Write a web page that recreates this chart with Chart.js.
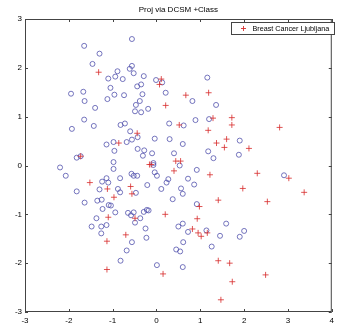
<!DOCTYPE html>
<html>
<head>
<meta charset="utf-8">
<script src="https://cdn.jsdelivr.net/npm/chart.js@4"></script>
<style>
  html, body { margin: 0; padding: 0; background: #fff; }
  canvas { display: block; }
</style>
</head>
<body>
<canvas id="projChart" width="338" height="328"></canvas>
<script>
// values (projection coords)
const chartTitle = 'Proj via DCSM +Class';
const legendLabel = 'Breast Cancer Ljubljana';

const xTicks = [-3, -2, -1, 0, 1, 2, 3, 4];
const yTicks = [-3, -2, -1, 0, 1, 2, 3];

// blue circles
const circleX = [
  -1.65, -1.30, -1.46, -0.56, -0.89, -0.94, -1.10, -0.77, -1.95, -1.67,
  -1.64, -1.05, -0.96, -1.12, -0.74, -1.40, -1.65, -1.43, -1.93, -0.82,
  -0.72, -0.56, -0.61, -0.52, -0.29, -0.44, -0.35, -0.32, -0.01, 0.13,
  0.21, 1.16, 0.82, 1.36, -0.38, -0.47, -0.49, -0.35, -0.19, 0.29,
  0.62, 0.89, 1.20, -1.14, -0.98, -0.68, -0.96, -1.82, -1.73, -0.98,
  -0.98, -2.20, -2.07, -1.14, -1.24, -1.10, -0.83, -1.30, -0.88, -0.83,
  -1.82, -1.64, -1.35, -1.25, -1.09, -1.04, -1.23, -0.94, -1.37, -0.65,
  -0.60, -0.43, -0.56, -0.04, 0.30, 0.60, -0.43, -0.28, -0.31, -0.10,
  0.40, 1.18, 1.30, 0.53, -0.07, -0.07, 0.92, -0.04, 0.01, -0.57,
  -0.52, -0.44, 0.72, 0.27, 0.23, -0.21, 0.86, 0.11, 0.56, 0.60,
  -0.47, 0.37, 0.92, -0.52, -0.58, -0.29, -0.22, -0.18, -0.37, 1.90,
  1.88, 2.91, -1.48, -1.26, -1.14, -1.26, -0.68, -0.82, -0.49, 0.60,
  0.50, 0.72, 1.14, 1.45, 1.59, -0.25, -0.23, -0.56, 0.61, 0.45,
  0.54, 1.26, 0.01, 0.60, 1.90, 2.00
];
const circleY = [
  2.45, 2.29, 2.08, 2.59, 1.93, 1.82, 1.78, 1.77, 1.47, 1.51,
  1.32, 1.59, 1.45, 1.36, 1.44, 1.18, 0.94, 0.81, 0.75, 0.83,
  0.86, 2.04, 1.98, 1.89, 1.83, 1.62, 1.66, 1.46, 1.75, 1.70,
  1.49, 1.80, 1.32, 1.24, 1.32, 1.24, 1.11, 1.09, 1.16, 0.86,
  0.82, 0.93, 0.95, 0.43, 0.48, 0.48, 0.30, 0.16, 0.19, 0.07,
  -0.07, -0.04, -0.21, -0.26, -0.33, -0.35, -0.26, -0.49, -0.48, -0.55,
  -0.53, -0.76, -0.72, -0.70, -0.81, -0.82, -0.89, -0.96, -1.08, -0.97,
  0.70, 0.58, 0.53, 0.55, 0.54, 0.44, 0.34, 0.31, 0.20, 0.25,
  0.25, 0.29, 0.15, 0.00, 0.05, 0.01, -0.09, -0.14, -0.21, -0.17,
  -0.21, -0.21, -0.27, -0.28, -0.35, -0.40, -0.39, -0.48, -0.47, -0.58,
  -0.56, -0.69, -0.79, -0.96, -1.02, -0.95, -0.91, -0.92, -1.08, 0.51,
  0.22, -0.20, -1.25, -1.25, -1.22, -1.39, -1.74, -1.95, -1.17, -1.19,
  -1.25, -1.36, -1.33, -1.44, -1.19, -1.29, -1.48, -1.57, -1.57, -1.72,
  -1.76, -1.66, -2.04, -2.08, -1.46, -1.34
];

// red crosses
const crossX = [
  -1.32, 0.11, 0.07, 0.67, 1.19, 0.21, 0.52, 1.29, 1.18, 1.72,
  1.72, 2.81, -0.86, -1.73, -1.52, -1.12, -0.97, -1.10, -0.44, 1.37,
  1.55, 1.60, 0.44, 0.55, -0.16, -0.12, 0.40, 1.22, -0.59, -0.56,
  1.41, 0.98, -0.49, 0.20, 0.93, 2.11, 2.30, 3.02, 1.97, 3.37,
  2.53, -0.70, -1.13, -1.13, 0.82, 0.95, 1.16, 1.02, 0.15, 1.41,
  1.47, 1.67, 2.49, 1.73
];
const crossY = [
  1.91, 1.77, 1.66, 1.44, 1.49, 1.23, 0.83, 0.97, 0.72, 0.98,
  0.83, 0.78, 0.46, 0.19, -0.35, -0.48, -0.65, -1.06, 0.66, 0.46,
  0.37, 0.54, 0.09, 0.09, 0.02, 0.02, -0.11, -0.19, -0.43, -0.58,
  -0.71, -0.84, -1.08, -1.00, -1.09, 0.35, -0.16, -0.26, -0.47, -0.55,
  -0.74, -1.42, -1.55, -2.13, -1.30, -1.38, -1.38, -1.45, -2.22, -1.95,
  -2.75, -2.00, -2.24, -2.38
];

const FONT = '"Liberation Sans", Arial, sans-serif';
const blue = 'rgba(75, 75, 170, 0.85)';
const red = 'rgba(215, 45, 45, 0.9)';

function toPoints(xs, ys) {
  return xs.map((x, i) => ({ x: x, y: ys[i] }));
}

// matlab-ish frame: box, inward ticks, title and the little legend
const matlabFrame = {
  id: 'matlabFrame',
  afterDraw(chart) {
    const ctx = chart.ctx;
    const a = chart.chartArea;
    const xs = chart.scales.x;
    const ys = chart.scales.y;
    const tl = 3;
    ctx.save();
    ctx.strokeStyle = '#444';
    ctx.lineWidth = 1;
    ctx.strokeRect(a.left + 0.5, a.top + 0.5, a.right - a.left - 1, a.bottom - a.top - 1);

    ctx.beginPath();
    xTicks.forEach(v => {
      const px = Math.round(xs.getPixelForValue(v)) + 0.5;
      ctx.moveTo(px, a.bottom); ctx.lineTo(px, a.bottom - tl);
      ctx.moveTo(px, a.top); ctx.lineTo(px, a.top + tl);
    });
    yTicks.forEach(v => {
      const py = Math.round(ys.getPixelForValue(v)) + 0.5;
      ctx.moveTo(a.left, py); ctx.lineTo(a.left + tl, py);
      ctx.moveTo(a.right, py); ctx.lineTo(a.right - tl, py);
    });
    ctx.stroke();

    // title
    ctx.fillStyle = '#000';
    ctx.font = '8px ' + FONT;
    ctx.textAlign = 'center';
    ctx.textBaseline = 'middle';
    ctx.fillText(chartTitle, (a.left + a.right) / 2, 10);

    // legend box (top right)
    const lx = 231, ly = 22, lw = 103, lh = 12;
    ctx.fillStyle = '#fff';
    ctx.fillRect(lx, ly, lw, lh);
    ctx.strokeStyle = '#444';
    ctx.strokeRect(lx + 0.5, ly + 0.5, lw, lh);
    ctx.strokeStyle = red;
    ctx.beginPath();
    ctx.moveTo(241, 28.5); ctx.lineTo(246, 28.5);
    ctx.moveTo(243.5, 26); ctx.lineTo(243.5, 31);
    ctx.stroke();
    ctx.fillStyle = '#000';
    ctx.font = '7.2px ' + FONT;
    ctx.textAlign = 'left';
    ctx.fillText(legendLabel, 252.5, 29);
    ctx.restore();
  }
};

const ctx = document.getElementById('projChart').getContext('2d');
new Chart(ctx, {
  type: 'scatter',
  data: {
    datasets: [
      {
        label: legendLabel,
        data: toPoints(crossX, crossY),
        pointStyle: 'cross',
        pointRadius: 3,
        borderColor: red,
        borderWidth: 0.9
      },
      {
        label: 'other class',
        data: toPoints(circleX, circleY),
        pointStyle: 'circle',
        pointRadius: 2.5,
        backgroundColor: 'rgba(0,0,0,0)',
        borderColor: blue,
        borderWidth: 0.9
      }
    ]
  },
  options: {
    responsive: false,
    animation: false,
    devicePixelRatio: 1,
    layout: { padding: { top: 19, right: 3, left: 0, bottom: 0 } },
    scales: {
      x: {
        type: 'linear',
        min: -3,
        max: 4,
        afterBuildTicks: s => { s.ticks = xTicks.map(v => ({ value: v })); },
        afterFit: s => { s.height = 16; },
        ticks: { font: { size: 8, family: FONT }, color: '#000', padding: 4, maxRotation: 0 },
        grid: { display: false, drawTicks: false },
        border: { display: false }
      },
      y: {
        type: 'linear',
        min: -3,
        max: 3,
        afterBuildTicks: s => { s.ticks = yTicks.map(v => ({ value: v })); },
        afterFit: s => { s.width = 25; },
        ticks: { font: { size: 8, family: FONT }, color: '#000', padding: 3 },
        grid: { display: false, drawTicks: false },
        border: { display: false }
      }
    },
    plugins: {
      legend: { display: false },
      title: { display: false },
      tooltip: { enabled: false }
    }
  },
  plugins: [matlabFrame]
});
</script>
</body>
</html>
